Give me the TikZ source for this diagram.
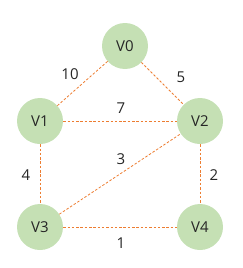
\documentclass[tikz,border=0pt]{standalone}
\usepackage{fontspec}
\setmainfont{Open Sans}
\definecolor{vgreen}{HTML}{C5E0B4}
\definecolor{eorange}{HTML}{ED7D31}
\tikzset{
  vert/.style={circle,fill=vgreen,minimum size=46pt,inner sep=0pt,font=\fontsize{15}{17}\selectfont,text=black!85},
  edge/.style={eorange,line width=0.8pt,dash pattern=on 2.5pt off 1.8pt},
  wt/.style={font=\fontsize{15}{17}\selectfont,text=black!85}
}
\begin{document}
\begin{tikzpicture}[x=1pt,y=-1pt]
            \useasboundingbox (0,0) rectangle (242,268);
            \node[vert] (v0) at (125,46) {V0};
            \node[vert] (v1) at (40,121) {V1};
            \node[vert] (v2) at (200,121) {V2};
            \node[vert] (v3) at (40,227) {V3};
            \node[vert] (v4) at (200,227) {V4};
            \draw[edge](v0)--(v1);
            \draw[edge](v0)--(v2);
            \draw[edge](v1)--(v2);
            \draw[edge](v3)--(v2);
            \draw[edge](v1)--(v3);
            \draw[edge](v2)--(v4);
            \draw[edge](v3)--(v4);
            \node[wt] (w10) at (70,74) {10};
            \node[wt] (w5) at (181,77) {5};
            \node[wt] (w7) at (121,108) {7};
            \node[wt] (w3) at (121,159) {3};
            \node[wt] (w4) at (26,175) {4};
            \node[wt] (w2) at (214,175) {2};
            \node[wt] (w1) at (121,243) {1};
        \end{tikzpicture}
\end{document}
